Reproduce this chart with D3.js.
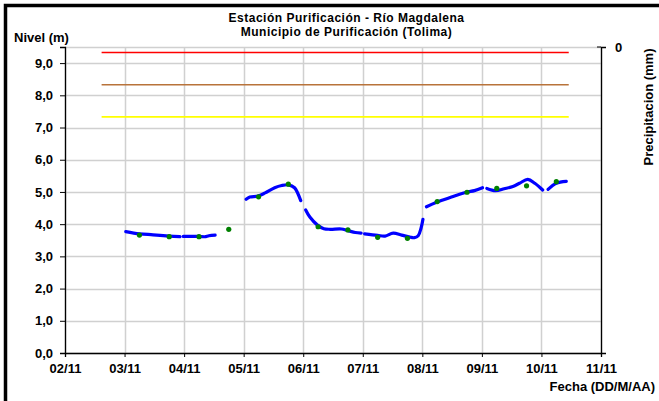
<!DOCTYPE html>
<html><head><meta charset="utf-8">
<script src="https://cdn.jsdelivr.net/npm/d3@7"></script>
<style>
body{margin:0;background:#fff;}
svg{display:block;font-family:"Liberation Sans",Arial,sans-serif;font-weight:bold;}
</style></head>
<body>
<script>
// Continuous sensor level (m); null = gap
const levelTimes = [
 "03/11 00:30","03/11 06:00","03/11 11:30","03/11 18:00","03/11 22:20","03/11 23:00",
 "03/11 23:40","04/11 06:00","04/11 08:20","04/11 10:00","04/11 12:30","04/11 18:00",
 "05/11 01:00","05/11 02:30","05/11 05:45","05/11 08:40","05/11 12:30","05/11 15:20","05/11 18:00","05/11 20:30","05/11 23:00","06/11 00:00",
 "06/11 01:00","06/11 02:40","06/11 05:45","06/11 08:20","06/11 10:50","06/11 15:20","06/11 18:00","06/11 21:00","06/11 23:20","07/11 00:00",
 "07/11 00:45","07/11 06:00","07/11 09:00","07/11 12:15","07/11 15:40","07/11 19:00","07/11 20:50","07/11 22:20","07/11 23:30","08/11 00:15","08/11 01:00",
 "08/11 01:40","08/11 05:45","08/11 11:45","08/11 17:45","08/11 21:00","09/11 00:15","09/11 01:00",
 "09/11 02:00","09/11 05:30","09/11 09:00","09/11 12:30","09/11 15:10","09/11 18:30","09/11 21:20","10/11 00:30","10/11 01:30",
 "10/11 02:40","10/11 06:00","10/11 10:00"
];
const levelValues = [
 3.77,3.70,3.67,3.63,3.61,null,
 3.62,3.62,3.61,3.64,3.66,null,
 4.77,4.84,4.87,4.97,5.13,5.20,5.22,5.13,4.73,null,
 4.44,4.22,3.97,3.86,3.84,3.85,3.80,3.74,3.72,null,
 3.70,3.65,3.63,3.72,3.66,3.60,3.58,3.64,3.88,4.15,null,
 4.54,4.68,4.84,4.99,5.04,5.13,null,
 5.11,5.04,5.10,5.17,5.27,5.39,5.27,5.06,null,
 5.08,5.27,5.33
];
// Manual readings (green dots)
const readTimes = ["03/11 06:00","03/11 18:00","04/11 06:00","04/11 18:00","05/11 06:00","05/11 18:00","06/11 06:00","06/11 18:00","07/11 06:00","07/11 18:00","08/11 06:00","08/11 18:00","09/11 06:00","09/11 18:00","10/11 06:00"];
const readValues = [3.66,3.61,3.61,3.84,4.85,5.24,3.92,3.82,3.59,3.56,4.70,4.99,5.11,5.19,5.32];
// Alert thresholds
const thresholdValues = [9.33, 8.33, 7.33];
const thresholdColors = ["#ff0000", "#b8733a", "#ffff00"];
const thresholdSpan = ["02/11 14:45", "10/11 11:00"];
const xTickDays = ["02/11","03/11","04/11","05/11","06/11","07/11","08/11","09/11","10/11","11/11"];
const yTicks = [0,1,2,3,4,5,6,7,8,9];

const W = 659, H = 401, FS = 13;
const parse = d3.timeParse("%d/%m %H:%M");
const parseDay = d3.timeParse("%d/%m");
const svg = d3.select("body").append("svg").attr("width", W).attr("height", H);

const x = d3.scaleTime().domain([parseDay("02/11"), parseDay("11/11")]).range([65, 601]);
const y = d3.scaleLinear().domain([0, 9.5]).range([353, 47]);

// frame
svg.append("rect").attr("x",5.5).attr("y",5.5).attr("width",720).attr("height",420)
  .attr("fill","none").attr("stroke","#000").attr("stroke-width",3.5);

// grid
const g = svg.append("g");
g.selectAll("line.hg").data(yTicks.concat([9.5])).join("line")
  .attr("x1",65).attr("x2",601).attr("y1",d=>Math.round(y(d))+0.5).attr("y2",d=>Math.round(y(d))+0.5)
  .attr("stroke","#d0d0d0").attr("stroke-width",1.5);
g.selectAll("line.vg").data(xTickDays.map(parseDay)).join("line")
  .attr("x1",d=>Math.round(x(d))+0.5).attr("x2",d=>Math.round(x(d))+0.5).attr("y1",47).attr("y2",353)
  .attr("stroke","#d0d0d0").attr("stroke-width",1.5);

// axes
const yAxis = svg.append("g").attr("transform","translate(65,0)")
  .call(d3.axisLeft(y).tickValues(yTicks).tickFormat(d=>d3.format(".1f")(d).replace(".",",")).tickSize(5).tickPadding(7));
const xAxis = svg.append("g").attr("transform","translate(0,353)")
  .call(d3.axisBottom(x).tickValues(xTickDays.map(parseDay)).tickFormat(d3.timeFormat("%d/%m")).tickSize(4).tickPadding(5));
[yAxis,xAxis].forEach(a=>{
  a.selectAll("text").attr("font-size",FS).attr("font-weight","bold").attr("fill","#000").attr("font-family","Liberation Sans, Arial, sans-serif");
  a.select(".domain").attr("stroke","#000").attr("stroke-width",1.3);
  a.selectAll(".tick line").attr("stroke","#000");
});
xAxis.selectAll("text").attr("y",20).attr("dy",0);
// right axis
const yR = d3.scaleLinear().domain([0,1]).range([47,353]);
const rAxis = svg.append("g").attr("transform","translate(601,0)")
  .call(d3.axisRight(yR).tickValues([0]).tickFormat(d=>d).tickSize(5).tickPadding(9));
rAxis.selectAll("text").attr("font-size",FS).attr("font-weight","bold").attr("fill","#000").attr("font-family","Liberation Sans, Arial, sans-serif");
rAxis.select(".domain").attr("stroke","#000").attr("stroke-width",1.3);
rAxis.append("line").attr("x1",-4).attr("x2",0).attr("y1",47).attr("y2",47).attr("stroke","#000");

// thresholds
svg.selectAll("line.th").data(thresholdValues).join("line")
  .attr("x1",x(parse(thresholdSpan[0]))).attr("x2",x(parse(thresholdSpan[1])))
  .attr("y1",d=>y(d)).attr("y2",d=>y(d))
  .attr("stroke",(d,i)=>thresholdColors[i]).attr("stroke-width",1.6);

// level line
const levelData = levelTimes.map((t,i)=>({t:parse(t), v:levelValues[i]}));
svg.append("path").datum(levelData)
  .attr("d", d3.line().defined(d=>d.v!==null).x(d=>x(d.t)).y(d=>y(d.v)).curve(d3.curveCatmullRom))
  .attr("fill","none").attr("stroke","#0000ff").attr("stroke-width",3.2).attr("stroke-linecap","round");

// readings
svg.selectAll("circle.rd").data(readTimes.map((t,i)=>({t:parse(t), v:readValues[i]}))).join("circle")
  .attr("cx",d=>x(d.t)).attr("cy",d=>y(d.v)).attr("r",2.6).attr("fill","#008000");

// texts
const T = (txt,xx,yy,anchor,fs,extra)=>{
  const t = svg.append("text").attr("x",xx).attr("y",yy).attr("text-anchor",anchor)
    .attr("font-size",fs).attr("font-weight","bold").attr("fill","#000").text(txt);
  if(extra) extra(t);
  return t;
};
T("Estación Purificación - Río Magdalena", 346.5, 21.5, "middle", 12, t=>t.attr("letter-spacing",0.5));
T("Municipio de Purificación (Tolima)", 346.5, 35.5, "middle", 12, t=>t.attr("letter-spacing",0.5));
T("Nivel (m)", 14, 41.5, "start", FS);
T("Fecha (DD/M/AA)", 655, 390.5, "end", FS);
T("Precipitacion (mm)", 0, 0, "middle", FS, t=>t.attr("transform","translate(653,107) rotate(-90)"));
</script>
</body></html>
